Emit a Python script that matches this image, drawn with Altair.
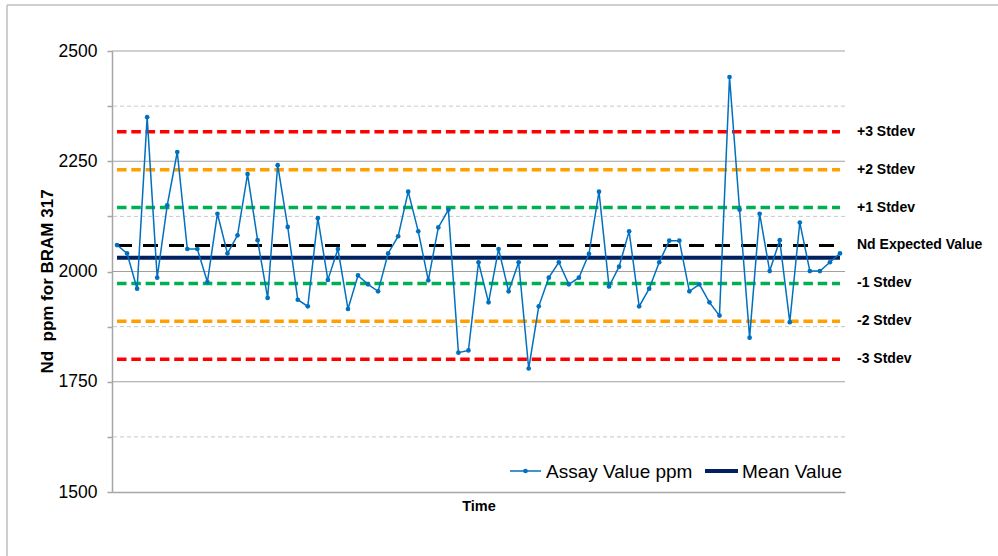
import altair as alt
import pandas as pd

# ---------------- data ----------------
time_idx = list(range(1, 74))
assay_ppm = [2060, 2041, 1961, 2350, 1986, 2150, 2271, 2051, 2051, 1976,
             2131, 2041, 2082, 2221, 2071, 1940, 2241, 2101, 1936, 1921,
             2121, 1981, 2051, 1915, 1991, 1971, 1955, 2041, 2080, 2181,
             2091, 1980, 2100, 2140, 1816, 1821, 2021, 1930, 2051, 1955,
             2021, 1780, 1921, 1986, 2021, 1971, 1986, 2040, 2181, 1966,
             2011, 2091, 1921, 1961, 2021, 2070, 2070, 1955, 1971, 1930,
             1900, 2441, 2140, 1850, 2131, 2001, 2071, 1885, 2111, 2001,
             2001, 2021, 2041]
mean_value = 2031

ref_names = ["+3 Stdev", "+2 Stdev", "+1 Stdev", "Nd Expected Value",
             "-1 Stdev", "-2 Stdev", "-3 Stdev"]
ref_values = [2317, 2231, 2145, 2059, 1973, 1887, 1801]
ref_colors = ["#ff0000", "#ffa000", "#00b050", "#000000",
              "#00b050", "#ffa000", "#ff0000"]

y_tick_values = [1500, 1625, 1750, 1875, 2000, 2125, 2250, 2375, 2500]
major_grid = [1750, 2000, 2250, 2500]
minor_grid = [1625, 1875, 2125, 2375]

legend_labels = ["Assay Value ppm", "Mean Value"]
y_title = "Nd \u00a0ppm for BRAM 317"
x_title = "Time"

# ---------------- tables ----------------
assay_df = pd.DataFrame({"t": time_idx, "v": assay_ppm})
first_t, last_t = time_idx[0], time_idx[-1]
ref_df = pd.DataFrame({"name": ref_names, "v": ref_values, "c": ref_colors,
                       "x1": first_t, "x2": last_t})
std_df = ref_df[ref_df["name"] != "Nd Expected Value"]
exp_df = ref_df[ref_df["name"] == "Nd Expected Value"]
mean_df = pd.DataFrame({"v": [mean_value], "x1": [first_t], "x2": [last_t]})
major_df = pd.DataFrame({"v": major_grid})
minor_df = pd.DataFrame({"v": minor_grid})

FONT = "Liberation Sans"
AXIS_GRAY = "#a6a6a6"

xscale = alt.Scale(domain=[first_t - 0.5, last_t + 0.5], nice=False, zero=False)
yscale = alt.Scale(domain=[1500, 2500], nice=False, zero=False)

x_axis = alt.Axis(title=x_title, labels=False, ticks=False, grid=False,
                  domainColor=AXIS_GRAY, domainWidth=1.5,
                  titleFontSize=14.5, titleFontWeight="bold", titleFont=FONT,
                  titleColor="#000000", titlePadding=7)
y_axis = alt.Axis(title=y_title, values=y_tick_values,
                  format="d",
                  labelExpr="datum.value % 250 == 0 ? datum.label : ''",
                  grid=False, tickSize=5, tickColor=AXIS_GRAY, tickWidth=1.5,
                  domainColor=AXIS_GRAY, domainWidth=1.5,
                  labelFontSize=17.5, labelFont=FONT, labelColor="#000000",
                  labelPadding=10,
                  titleFontSize=17, titleFontWeight="bold", titleFont=FONT,
                  titleColor="#000000", titleX=-56, titleY=230)

# grid lines
minor = alt.Chart(minor_df).mark_rule(color="#c8c8c8", strokeWidth=1,
                                      strokeDash=[4, 3]).encode(
    y=alt.Y("v:Q", scale=yscale, axis=y_axis))
major = alt.Chart(major_df).mark_rule(color="#a0a0a0", strokeWidth=1).encode(
    y=alt.Y("v:Q", scale=yscale, axis=y_axis))

# stdev reference lines
std_lines = alt.Chart(std_df).mark_rule(strokeWidth=3.5, strokeDash=[9.5, 4.8]).encode(
    x=alt.X("x1:Q", scale=xscale, axis=x_axis),
    x2="x2:Q",
    y=alt.Y("v:Q", scale=yscale, axis=y_axis),
    color=alt.Color("c:N", scale=None))
exp_line = alt.Chart(exp_df).mark_rule(strokeWidth=3, strokeDash=[15, 11],
                                       color="#000000").encode(
    x=alt.X("x1:Q", scale=xscale, axis=x_axis),
    x2="x2:Q",
    y=alt.Y("v:Q", scale=yscale, axis=y_axis))
mean_line = alt.Chart(mean_df).mark_rule(strokeWidth=4, color="#002060").encode(
    x=alt.X("x1:Q", scale=xscale, axis=x_axis),
    x2="x2:Q",
    y=alt.Y("v:Q", scale=yscale, axis=y_axis))

# assay series
assay = alt.Chart(assay_df).mark_line(
    color="#0070c0", strokeWidth=1.5,
    point=alt.OverlayMarkDef(filled=True, size=22, color="#0070c0")).encode(
    x=alt.X("t:Q", scale=xscale, axis=x_axis),
    y=alt.Y("v:Q", scale=yscale, axis=y_axis))

# right-hand labels
labels = alt.Chart(ref_df).mark_text(align="left", baseline="middle",
                                     fontSize=14, fontWeight="bold",
                                     font=FONT, color="#000000").encode(
    x=alt.value(745),
    y=alt.Y("v:Q", scale=yscale, axis=y_axis),
    text="name:N")

# legend (inside plot, bottom right)
leg_df1 = pd.DataFrame({"label": [legend_labels[0]]})
leg_df2 = pd.DataFrame({"label": [legend_labels[1]]})
leg_y = 420
leg1_line = alt.Chart(leg_df1).mark_rule(color="#0070c0", strokeWidth=1.5).encode(
    x=alt.value(398), x2=alt.value(429), y=alt.value(leg_y))
leg1_pt = alt.Chart(leg_df1).mark_point(filled=True, size=22, color="#0070c0",
                                        opacity=1).encode(
    x=alt.value(413.5), y=alt.value(leg_y))
leg1_txt = alt.Chart(leg_df1).mark_text(align="left", baseline="middle",
                                        fontSize=19, font=FONT,
                                        color="#000000").encode(
    x=alt.value(434), y=alt.value(leg_y + 1), text="label:N")
leg2_line = alt.Chart(leg_df2).mark_rule(color="#002060", strokeWidth=4).encode(
    x=alt.value(593), x2=alt.value(626), y=alt.value(leg_y))
leg2_txt = alt.Chart(leg_df2).mark_text(align="left", baseline="middle",
                                        fontSize=19, font=FONT,
                                        color="#000000").encode(
    x=alt.value(630), y=alt.value(leg_y + 1), text="label:N")

# outer frame (left and top edges of the chart area)
frame_df = pd.DataFrame({"k": [0]})
frame_left = alt.Chart(frame_df).mark_rule(color="#bfbfbf", strokeWidth=1.5).encode(
    x=alt.value(-105), y=alt.value(-46), y2=alt.value(505))
frame_top = alt.Chart(frame_df).mark_rule(color="#bfbfbf", strokeWidth=1.5).encode(
    x=alt.value(-105), x2=alt.value(886), y=alt.value(-46))

chart = alt.layer(
    minor, major, std_lines, exp_line, mean_line, assay,
    labels, leg1_line, leg1_pt, leg1_txt, leg2_line, leg2_txt,
    frame_left, frame_top
).properties(
    width=733, height=441,
    padding={"left": 112, "top": 51, "right": 153, "bottom": 64},
    autosize=alt.AutoSizeParams(type="none"),
    background="#ffffff"
).configure(
    font=FONT,
    view=alt.ViewConfig(strokeWidth=0, stroke="transparent")
)

chart.save("out.html", embed_options={"renderer": "svg", "actions": False})
